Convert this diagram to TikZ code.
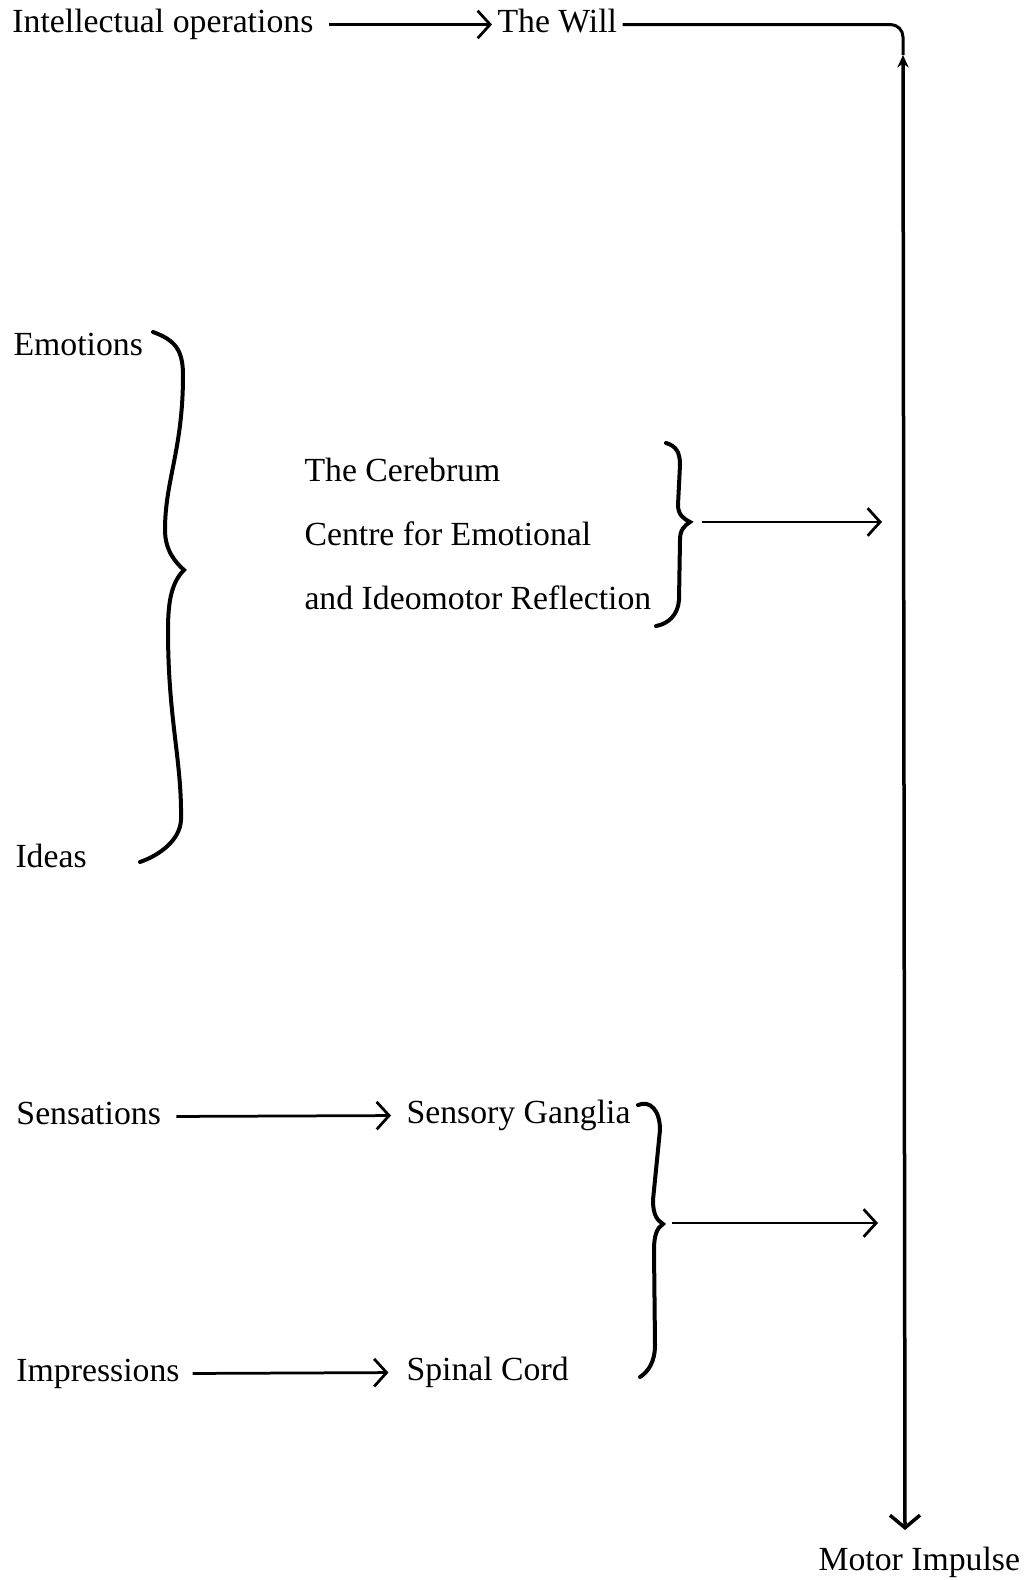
\documentclass[tikz,border=0pt]{standalone}
\usepackage{fontspec}
\setmainfont{Liberation Serif}
\usetikzlibrary{arrows.meta}
\tikzset{
  lbl/.style={anchor=base west, inner sep=2pt, text height=9pt, text depth=3pt,
    font=\fontsize{13.5}{16}\selectfont},
  arr/.style={line width=1.1pt, -{Straight Barb[length=5pt,width=11pt]}},
  brc/.style={line width=1.6pt, line cap=round},
}
\begin{document}
\begin{tikzpicture}[x=0.4pt,y=-0.4pt]
\useasboundingbox (0,0) rectangle (1029,1580);

\node[lbl] (intel) at (7,32) {Intellectual operations};

\node[lbl] (will) at (492,32) {The Will};

\node[lbl] (emo) at (8,355) {Emotions};

\node[lbl] (ideas) at (10,867) {Ideas};

\node[lbl] (cer1) at (299,481) {The Cerebrum};

\node[lbl] (cer2) at (299,545) {Centre for Emotional};

\node[lbl] (cer3) at (299,609) {and Ideomotor Reflection};

\node[lbl] (sens) at (11,1124) {Sensations};

\node[lbl] (gang) at (401,1123) {Sensory Ganglia};

\node[lbl] (impr) at (11,1381) {Impressions};

\node[lbl] (cord) at (401,1380) {Spinal Cord};

\node[lbl] (motor) at (813,1570) {Motor Impulse};

\coordinate (vtop) at (903,55);
\coordinate (vbot) at (905,1530);
\coordinate (cerfrom) at (702,522);
\coordinate (certo) at (882,522);
\coordinate (gangfrom) at (672,1223);
\coordinate (gangto) at (878,1223);

\draw[arr, shorten <=4pt] (intel.east) -- (will.west);

\draw[arr, shorten <=4pt, shorten >=4pt] (sens.east) -- (gang.west);

\draw[arr, shorten <=3pt, shorten >=5pt] (impr.east) -- (cord.west);

\draw[arr] (cerfrom) -- (certo);

\draw[arr] (gangfrom) -- (gangto);

% line from the will and the long upright
\draw[line width=1.2pt, rounded corners=5pt] (will.east) -| (vtop);

\draw[line width=1.4pt, {Straight Barb[length=5pt,width=12pt]}-{Stealth[length=5pt,width=4.5pt]}] (vbot) -- (vtop);

% braces
\draw[brc] (153,332) .. controls (175,340) and (183,350) .. (183,375)
  .. controls (183,450) and (165,480) .. (165,530)
  .. controls (165,550) and (175,562) .. (184,570)
  .. controls (172,582) and (168,600) .. (168,630)
  .. controls (168,720) and (182,760) .. (181,820)
  .. controls (180,840) and (160,855) .. (140,862);

\draw[brc] (666,443) .. controls (676,446) and (680,452) .. (680,465) -- (678,505)
  .. controls (678,515) and (684,519) .. (690,522)
  .. controls (684,526) and (680,530) .. (680,540) -- (679,600)
  .. controls (678,615) and (668,624) .. (656,626);

\draw[brc] (638,1105) .. controls (650,1100) and (660,1110) .. (660,1130) -- (653,1200)
  .. controls (653,1215) and (657,1220) .. (663,1224)
  .. controls (657,1228) and (654,1235) .. (654,1250) -- (655,1345)
  .. controls (655,1362) and (648,1372) .. (640,1377);
\end{tikzpicture}
\end{document}
